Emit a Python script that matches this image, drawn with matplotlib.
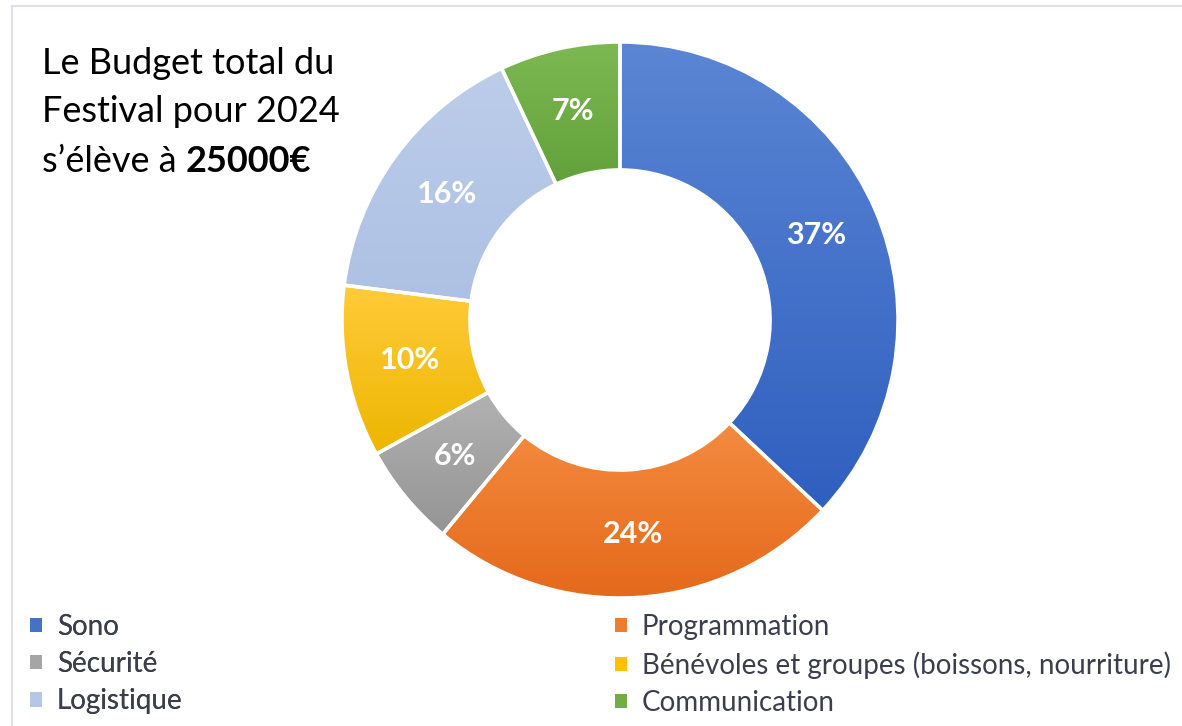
import matplotlib
matplotlib.use("Agg")
import numpy as np
import matplotlib.pyplot as plt
from matplotlib.lines import Line2D
from matplotlib.patches import Patch
from matplotlib.colors import LinearSegmentedColormap

categories = ["Sono", "Programmation", "Sécurité",
              "Bénévoles et groupes (boissons, nourriture)",
              "Logistique", "Communication"]
values = [37, 24, 6, 10, 16, 7]
colors = ["#4472C4", "#ED7D31", "#A5A5A5", "#FFC000", "#B4C7E7", "#70AD47"]
colors_light = ["#5B86D4", "#F48B40", "#B2B2B2", "#FFCB3A", "#BCCDEA", "#7DB952"]
colors_dark = ["#2F5FBF", "#E4691B", "#949494", "#EDB600", "#AEC1E4", "#62A13A"]

plt.rcParams['font.family'] = ['Lato', 'DejaVu Sans']

W, H = 1182, 726
fig = plt.figure(figsize=(W / 100, H / 100), dpi=100)
fig.patch.set_facecolor("white")

# donut
cx, cy, R = 620, 320, 278
half = 290
ax = fig.add_axes([(cx - half) / W, (H - cy - half) / H, 2 * half / W, 2 * half / H])
wedges, texts, autotexts = ax.pie(
    values, colors=colors, startangle=90, counterclock=False,
    radius=1, autopct=lambda p: f"{p:.0f}%", pctdistance=0.77,
    wedgeprops=dict(width=0.46, edgecolor="white", linewidth=2.5),
    textprops=dict(color="white", fontsize=22, fontweight="bold"))

# vertical gradient fill in each wedge
grad = np.linspace(1, 0, 256).reshape(-1, 1)
for w, cl, cd in zip(wedges, colors_light, colors_dark):
    ext = w.get_path().get_extents()
    cmap = LinearSegmentedColormap.from_list("g", [cd, cl])
    im = ax.imshow(grad, cmap=cmap, extent=[ext.x0, ext.x1, ext.y0, ext.y1],
                   aspect="auto", origin="upper", zorder=1.5, interpolation="bilinear")
    im.set_clip_path(w)
    w.set_zorder(2)
    w.set_facecolor("none")
for t in autotexts:
    t.set_zorder(3)

lim = half / R
ax.set_xlim(-lim, lim)
ax.set_ylim(-lim, lim)
ax.set_aspect("equal")
ax.axis("off")

# title text
fs_title = 26
fig.text(42 / W, 1 - 64 / H, "Le Budget total du", fontsize=fs_title, va="center", ha="left", color="black")
fig.text(42 / W, 1 - 112 / H, "Festival pour 2024", fontsize=fs_title, va="center", ha="left", color="black")
t = fig.text(42 / W, 1 - 162 / H, "s\u2019élève à ", fontsize=fs_title, va="center", ha="left", color="black")
fig.canvas.draw()
bb = t.get_window_extent()
fig.text(bb.x1 / W, 1 - 162 / H, "25000€", fontsize=fs_title, fontweight="bold", va="center", ha="left", color="black")

# border lines
fig.add_artist(Line2D([12 / W, 1], [1 - 6 / H, 1 - 6 / H], color="#DDE0EA", lw=1.5, transform=fig.transFigure))
fig.add_artist(Line2D([12 / W, 12 / W], [0, 1 - 6 / H], color="#DDE0EA", lw=1.5, transform=fig.transFigure))

# legends
left_idx = [0, 2, 4]
right_idx = [1, 3, 5]
def make_leg(idx, x):
    handles = [Patch(facecolor=colors[i], edgecolor="none") for i in idx]
    labels = [categories[i] for i in idx]
    leg = fig.legend(handles, labels, loc="upper left", bbox_to_anchor=(x / W, 1 - 614 / H),
                     frameon=False, fontsize=20, handlelength=0.42, handleheight=0.42,
                     handletextpad=0.55, labelspacing=0.4, borderaxespad=0, borderpad=0,
                     labelcolor="#3A3F4B")
    return leg
l1 = make_leg(left_idx, 30)
fig.add_artist(l1)
l2 = make_leg(right_idx, 615)

fig.savefig("out.png", dpi=100)
